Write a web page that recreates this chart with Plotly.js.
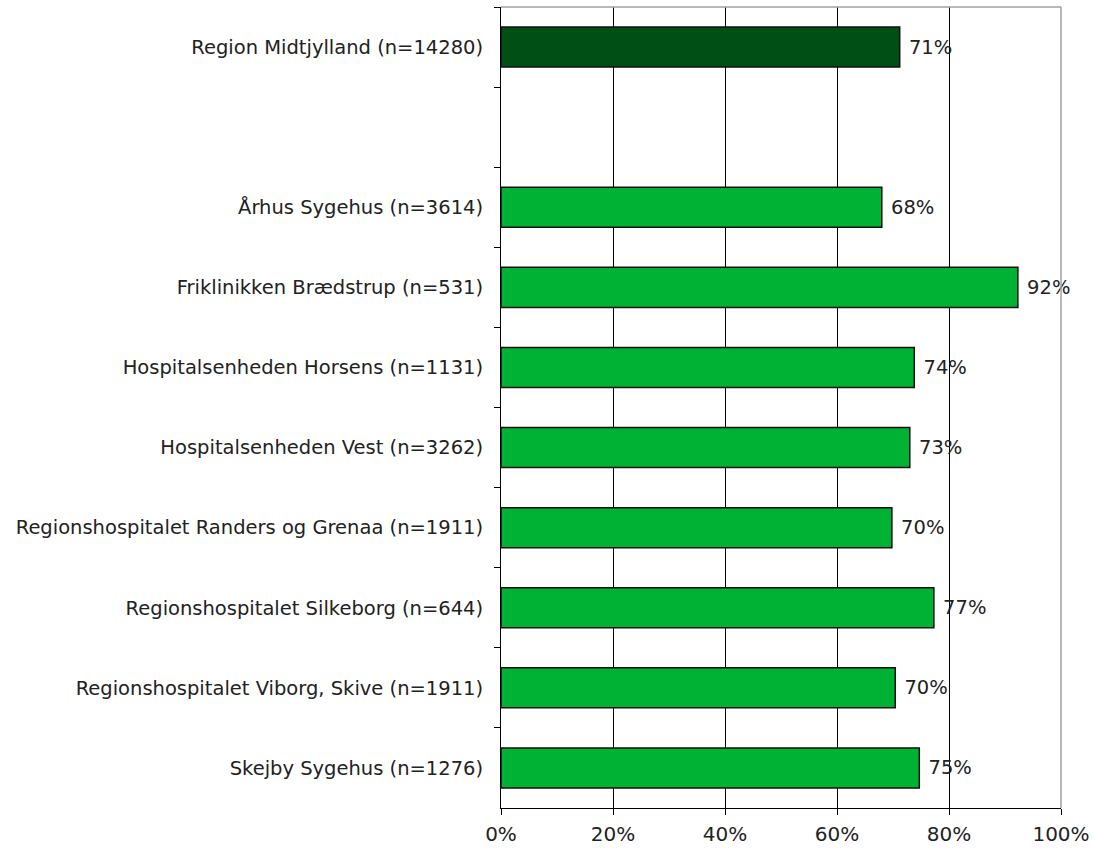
<!DOCTYPE html>
<html>
<head>
<meta charset="utf-8">
<script src="https://cdn.plot.ly/plotly-3.0.1.min.js"></script>
<style>html,body{margin:0;padding:0;background:#fff;}#chart{width:1093px;height:854px;}</style>
</head>
<body>
<div id="chart"></div>
<script>
// Data
const regionCategory = ["Region Midtjylland (n=14280)"];
const regionValues = [71.2];
const spacerCategory = [" "];
const hospitalCategories = [
  "Århus Sygehus (n=3614)",
  "Friklinikken Brædstrup (n=531)",
  "Hospitalsenheden Horsens (n=1131)",
  "Hospitalsenheden Vest (n=3262)",
  "Regionshospitalet Randers og Grenaa (n=1911)",
  "Regionshospitalet Silkeborg (n=644)",
  "Regionshospitalet Viborg, Skive (n=1911)",
  "Skejby Sygehus (n=1276)"
];
const hospitalValues = [68.0, 92.3, 73.8, 73.0, 69.8, 77.3, 70.4, 74.7];
const xTickValues = [0, 20, 40, 60, 80, 100];
const xTickLabels = ["0%", "20%", "40%", "60%", "80%", "100%"];

const categoryOrder = regionCategory.concat(spacerCategory, hospitalCategories);
const fmt = v => " " + Math.round(v) + "%";
const font = "'DejaVu Sans', sans-serif";
const fs = 19.5;

const traces = [
  {
    type: "bar", orientation: "h",
    y: regionCategory, x: regionValues,
    text: regionValues.map(fmt), textposition: "outside", cliponaxis: false,
    textfont: {family: font, size: fs, color: "#222"},
    marker: {color: "#004F14", line: {color: "#111", width: 1.5}},
    width: 0.5, hoverinfo: "x+y"
  },
  {
    type: "bar", orientation: "h",
    y: hospitalCategories, x: hospitalValues,
    text: hospitalValues.map(fmt), textposition: "outside", cliponaxis: false,
    textfont: {family: font, size: fs, color: "#222"},
    marker: {color: "#00B233", line: {color: "#111", width: 1.5}},
    width: 0.5, hoverinfo: "x+y"
  }
];

const layout = {
  width: 1093, height: 854,
  margin: {l: 501, r: 32, t: 7, b: 46},
  paper_bgcolor: "#fff", plot_bgcolor: "#fff",
  showlegend: false,
  barmode: "overlay",
  font: {family: font, size: fs, color: "#222"},
  xaxis: {
    range: [0, 100], tickvals: xTickValues, ticktext: xTickLabels,
    showgrid: true, gridcolor: "#000", gridwidth: 1,
    zeroline: false, showline: true, linecolor: "#000", linewidth: 1,
    ticks: "outside", ticklen: 6, tickcolor: "#000",
    ticklabelstandoff: 2,
    tickfont: {family: font, size: 20, color: "#222"},
    fixedrange: true
  },
  yaxis: {
    type: "category", categoryorder: "array", categoryarray: categoryOrder,
    range: [categoryOrder.length - 0.5, -0.5],
    showgrid: false, zeroline: false,
    showline: true, linecolor: "#000", linewidth: 1,
    ticks: "outside", tickson: "boundaries", ticklen: 6, tickcolor: "#000",
    ticklabelstandoff: 13,
    tickfont: {family: font, size: fs, color: "#222"},
    fixedrange: true
  },
  shapes: [
    {type: "line", xref: "paper", yref: "paper", x0: 0, x1: 1, y0: 1, y1: 1, line: {color: "#A0A0A0", width: 1.5}, layer: "above"},
    {type: "line", xref: "paper", yref: "paper", x0: 1, x1: 1, y0: 0, y1: 1, line: {color: "#A0A0A0", width: 1.5}, layer: "above"}
  ]
};

Plotly.newPlot("chart", traces, layout, {displayModeBar: false, staticPlot: true});
</script>
</body>
</html>
